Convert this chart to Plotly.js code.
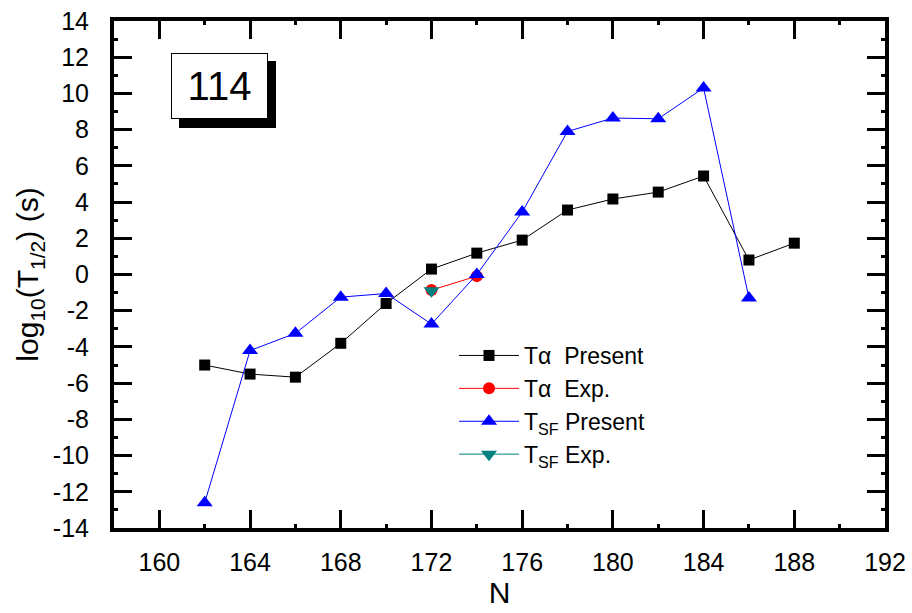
<!DOCTYPE html>
<html>
<head>
<meta charset="utf-8">
<script src="https://cdn.plot.ly/plotly-3.0.1.min.js"></script>
<style>html,body{margin:0;padding:0;background:#fff;}#chart{width:912px;height:613px;}</style>
</head>
<body>
<div id="chart"></div>
<script>
const nAlpha = [162,164,166,168,170,172,174,176,178,180,182,184,186,188];
const tAlphaPresent = [-5.0,-5.5,-5.67,-3.8,-1.6,0.3,1.18,1.9,3.56,4.17,4.55,5.44,0.8,1.73];
const nAlphaExp = [172,174];
const tAlphaExp = [-0.86,-0.09];
const nSF = [162,164,166,168,170,172,174,176,178,180,182,184,186];
const tSFPresent = [-12.6,-4.2,-3.25,-1.25,-1.05,-2.74,0.0,3.45,7.9,8.64,8.6,10.3,-1.3];
const nSFExp = [172];
const tSFExp = [-0.9];
const xTicks = [160,164,168,172,176,180,184,188,192];
const yTicks = [-14,-12,-10,-8,-6,-4,-2,0,2,4,6,8,10,12,14];

const FONT = "Liberation Sans, Arial, sans-serif";
const L = 114, R = 885, T = 21, B = 528;
const px = x => (x - L) / (R - L);
const py = y => 1 - (y - T) / (B - T);

const traces = [
  {x: nAlpha, y: tAlphaPresent, name: "T\u03b1  Present", mode: "lines+markers",
   line: {color: "#000", width: 1}, marker: {symbol: "square", size: 11, color: "#000"}},
  {x: nAlphaExp, y: tAlphaExp, name: "T\u03b1  Exp.", mode: "lines+markers",
   line: {color: "#ff0000", width: 1}, marker: {symbol: "circle", size: 12, color: "#ff0000"}},
  {x: nSF, y: tSFPresent, name: "T<sub>SF</sub> Present", mode: "lines+markers",
   line: {color: "#0000ff", width: 1}, marker: {symbol: "triangle-up", size: 14, color: "#0000ff"}},
  {x: nSFExp, y: tSFExp, name: "T<sub>SF</sub> Exp.", mode: "lines+markers",
   line: {color: "#008080", width: 1}, marker: {symbol: "triangle-down", size: 14, color: "#008080"}}
];

const axisCommon = {
  showline: true, linewidth: 4, linecolor: "#000", mirror: "ticks",
  ticks: "inside", ticklen: 18, tickwidth: 3, tickcolor: "#000",
  showgrid: false, zeroline: false,
  tickfont: {family: FONT, size: 25, color: "#000"}
};

const layout = {
  width: 912, height: 613,
  margin: {l: L, r: 912 - R, t: T, b: 613 - B},
  paper_bgcolor: "#fff", plot_bgcolor: "#fff",
  font: {family: FONT, color: "#000"},
  showlegend: true,
  legend: {x: px(454), y: py(334), xanchor: "left", yanchor: "top",
           bgcolor: "rgba(0,0,0,0)", font: {family: FONT, size: 23, color: "#000"},
           tracegroupgap: 0, itemwidth: 60},
  xaxis: Object.assign({}, axisCommon, {
    range: [158, 192], tickmode: "array", tickvals: xTicks, ticktext: xTicks.map(String),
    ticklabelstandoff: 9,
    minor: {dtick: 2, tick0: 158, ticks: "inside", ticklen: 4, tickwidth: 3, tickcolor: "#000"},
    title: {text: "N", font: {family: FONT, size: 30, color: "#000"}, standoff: 6}
  }),
  yaxis: Object.assign({}, axisCommon, {
    range: [-14, 14], tickmode: "array", tickvals: yTicks, ticktext: yTicks.map(String),
    ticklabelstandoff: 16,
    minor: {dtick: 1, tick0: 0, ticks: "inside", ticklen: 4, tickwidth: 3, tickcolor: "#000"},
    title: {text: "log<sub>10</sub>(T<sub>1/2</sub>) (s)", font: {family: FONT, size: 30, color: "#000"}, standoff: 6}
  }),
  shapes: [
    {type: "rect", xref: "paper", yref: "paper", x0: px(179), x1: px(276), y0: py(128), y1: py(61),
     fillcolor: "#000", line: {width: 0}, layer: "below"}
  ],
  annotations: [
    {xref: "paper", yref: "paper", x: px(171), y: py(53), xanchor: "left", yanchor: "top",
     text: "114", showarrow: false, width: 95, height: 64, align: "center", valign: "middle",
     bgcolor: "#fff", bordercolor: "#000", borderwidth: 1, borderpad: 0,
     font: {family: FONT, size: 40, color: "#000"}}
  ]
};

Plotly.newPlot("chart", traces, layout, {displayModeBar: false, staticPlot: true});
</script>
</body>
</html>
